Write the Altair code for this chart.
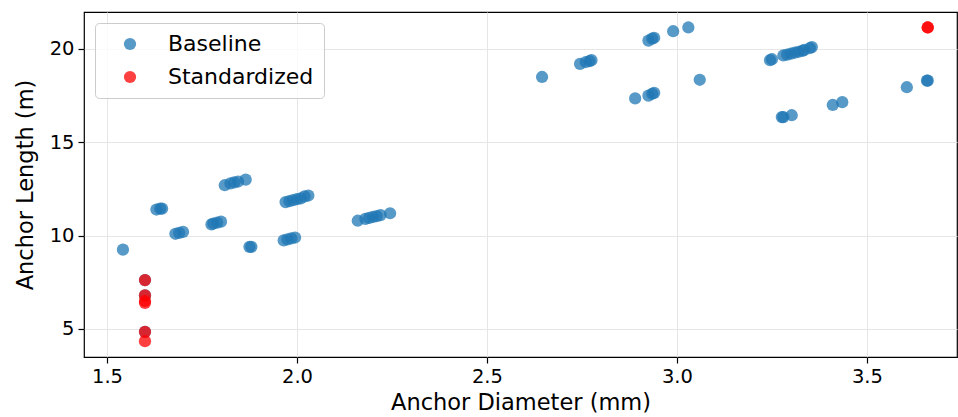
import altair as alt
import pandas as pd

base_x = [1.542, 1.63, 1.64, 1.645, 1.68, 1.69, 1.70,
          1.775, 1.78, 1.79, 1.80,
          1.81, 1.825, 1.835, 1.845, 1.865,
          1.875, 1.88,
          1.97, 1.98, 1.99, 2.00, 2.01, 2.02, 2.03,
          1.965, 1.975, 1.985, 1.995,
          2.16, 2.18, 2.19, 2.20, 2.21, 2.22, 2.245,
          2.645, 2.745, 2.76, 2.77, 2.775,
          2.89, 2.925, 2.935, 2.94,
          2.925, 2.935, 2.94, 2.99, 3.03, 3.06,
          3.245, 3.25, 3.28, 3.29, 3.30, 3.31, 3.32, 3.33, 3.335, 3.35, 3.355,
          3.276, 3.28, 3.302,
          3.41, 3.435, 3.605, 3.658, 3.66,
          1.6, 1.6, 1.6]
base_y = [9.25, 11.4, 11.45, 11.45, 10.1, 10.15, 10.2,
          10.6, 10.65, 10.7, 10.75,
          12.7, 12.8, 12.85, 12.9, 13.0,
          9.4, 9.4,
          11.8, 11.85, 11.9, 11.95, 12.0, 12.1, 12.15,
          9.75, 9.8, 9.85, 9.9,
          10.8, 10.9, 10.95, 11.0, 11.05, 11.1, 11.2,
          18.5, 19.2, 19.3, 19.35, 19.4,
          17.35, 17.5, 17.6, 17.65,
          20.45, 20.55, 20.6, 20.95, 21.15, 18.35,
          19.4, 19.45, 19.65, 19.7, 19.75, 19.8, 19.85, 19.9, 19.95, 20.05, 20.1,
          16.35, 16.35, 16.45,
          17.0, 17.15, 17.95, 18.3, 18.3,
          7.62, 6.8, 4.85]

std_x = [1.6, 1.6, 1.6, 1.6, 1.6, 1.6, 3.66, 3.66]
std_y = [7.62, 6.8, 6.5, 6.4, 4.85, 4.35, 21.15, 21.15]

series = ["Baseline", "Standardized"]

df = pd.DataFrame({
    "d": base_x + std_x,
    "L": base_y + std_y,
    "s": [series[0]] * len(base_x) + [series[1]] * len(std_x),
    "o": list(range(len(base_x) + len(std_x))),
})

FONT = "DejaVu Sans"

chart = alt.Chart(df).mark_circle(size=150, opacity=0.75).encode(
    x=alt.X("d:Q",
            scale=alt.Scale(domain=[1.4395, 3.737], nice=False, zero=False),
            axis=alt.Axis(values=[1.5, 2.0, 2.5, 3.0, 3.5], format=".1f",
                          title="Anchor Diameter (mm)")),
    y=alt.Y("L:Q",
            scale=alt.Scale(domain=[3.5, 21.98], nice=False, zero=False),
            axis=alt.Axis(values=[5, 10, 15, 20], title="Anchor Length (m)")),
    color=alt.Color("s:N",
                    scale=alt.Scale(domain=series, range=["#1f77b4", "#ff0000"]),
                    legend=alt.Legend(title=None, orient="none", legendX=11, legendY=11,
                                      padding=10, symbolOffset=14, labelOffset=27,
                                      rowPadding=11, symbolType="circle", symbolSize=150,
                                      symbolOpacity=0.75, symbolStrokeWidth=0,
                                      labelFontSize=22, labelFont=FONT, labelColor="black",
                                      fillColor="rgba(255,255,255,0.8)", strokeColor="#cccccc",
                                      cornerRadius=4)),
    order=alt.Order("o:Q"),
).properties(
    width=873, height=345,
    padding={"left": 84, "top": 12, "right": 1, "bottom": 60},
    autosize=alt.AutoSizeParams(type="none"),
).configure_view(
    stroke="black", strokeWidth=1.2
).configure_axis(
    domain=False, grid=True, gridColor="#e6e6e6", gridWidth=1,
    tickColor="black", tickSize=6, tickWidth=1.2,
    labelFont=FONT, labelFontSize=19.5, labelColor="black", labelPadding=4,
    titleFont=FONT, titleFontSize=22.5, titleFontWeight="normal", titleColor="black",
).configure_axisX(titlePadding=6).configure_axisY(titlePadding=12)

chart.save("out.html", embed_options={"renderer": "svg", "actions": False})
